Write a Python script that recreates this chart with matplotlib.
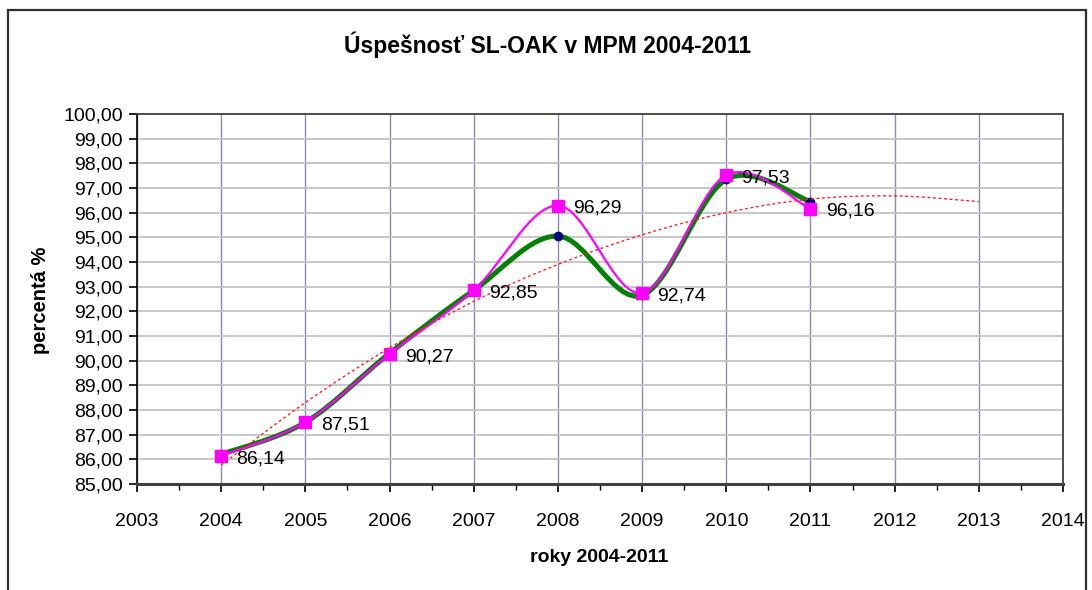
import matplotlib
matplotlib.use('Agg')
import matplotlib.pyplot as plt
import numpy as np
from matplotlib.path import Path
from matplotlib.patches import PathPatch, Rectangle

plt.rcParams['font.family'] = ['Liberation Sans', 'DejaVu Sans']

# data
years = [2004, 2005, 2006, 2007, 2008, 2009, 2010, 2011]
uspesnost = [86.14, 87.51, 90.27, 92.85, 96.29, 92.74, 97.53, 96.16]
druha_rada = [86.20, 87.50, 90.30, 92.85, 95.05, 92.65, 97.35, 96.45]
trend_years = [2004, 2005, 2006, 2007, 2008, 2009, 2010, 2011, 2012, 2013]
trend = [85.77, 88.30, 90.52, 92.40, 93.90, 95.10, 96.00, 96.55, 96.68, 96.45]


def smooth_path(xs, ys):
    # Excel-like smoothed line: cubic Bezier through the points
    p = np.column_stack([xs, ys]).astype(float)
    n = len(p)
    verts = [p[0]]
    codes = [Path.MOVETO]
    for i in range(n - 1):
        prev = p[i - 1] if i > 0 else p[i]
        nxt = p[i + 2] if i + 2 < n else p[i + 1]
        c1 = p[i] + (p[i + 1] - prev) / 6.0
        c2 = p[i + 1] - (nxt - p[i]) / 6.0
        verts += [c1, c2, p[i + 1]]
        codes += [Path.CURVE4] * 3
    return Path(verts, codes)


fig = plt.figure(figsize=(10.92, 5.9), dpi=100)
ax = fig.add_axes([137 / 1092, 1 - 484 / 590, (1063 - 137) / 1092, (484 - 114) / 590])

ax.set_xlim(2003, 2014)
ax.set_ylim(85, 100)
ax.set_xticks(range(2003, 2015))
ax.set_xticks(np.arange(2003.5, 2014, 1.0), minor=True)
ax.set_yticks(range(85, 101))
ax.set_yticklabels(['{:.2f}'.format(v).replace('.', ',') for v in range(85, 101)])

ax.grid(axis='y', color='#c4c4c4', lw=1.3)
ax.grid(axis='x', color='#8a8ab8', lw=1.0)
ax.set_axisbelow(True)

for s in ['top', 'right']:
    ax.spines[s].set_color('#404040')
    ax.spines[s].set_linewidth(1.3)
ax.spines['left'].set_color('black')
ax.spines['left'].set_linewidth(1.2)
ax.spines['bottom'].set_color('#404040')
ax.spines['bottom'].set_linewidth(2.2)

ax.tick_params(axis='both', which='major', direction='out', length=6, width=1.2,
               labelsize=14, colors='black')
ax.tick_params(axis='x', which='minor', direction='out', length=4, width=1.0)
ax.tick_params(axis='x', pad=15)
ax.tick_params(axis='y', pad=4)

# green series
ax.add_patch(PathPatch(smooth_path(years, druha_rada), fill=False, ec='#008000', lw=3.6, zorder=3))
ax.plot(years, druha_rada, ls='none', marker='o', ms=6, color='#000080', zorder=4)

# magenta series
ax.add_patch(PathPatch(smooth_path(years, uspesnost), fill=False, ec='#ff00ff', lw=1.6, zorder=5))
ax.plot(years, uspesnost, ls='none', marker='s', ms=8, color='#ff00ff', zorder=6)

# trend
ax.add_patch(PathPatch(smooth_path(trend_years, trend), fill=False, ec='#ff2020',
                       lw=1.0, ls=(0, (2, 2)), zorder=7))

for x, y in zip(years, uspesnost):
    ax.annotate('{:.2f}'.format(y).replace('.', ','), (x, y), xytext=(11, -2),
                textcoords='offset points', ha='left', va='center', fontsize=14, zorder=8)

fig.text(548 / 1092, 1 - 45 / 590, 'Úspešnosť SL-OAK v MPM 2004-2011',
         ha='center', va='center', fontsize=16.5, fontweight='bold')
fig.text(599 / 1092, 1 - 557 / 590, 'roky 2004-2011',
         ha='center', va='center', fontsize=14, fontweight='bold')
fig.text(40 / 1092, 1 - 300 / 590, 'percentá %', rotation=90,
         ha='center', va='center', fontsize=14.5, fontweight='bold')

fig.patches.append(Rectangle((8 / 1092, -0.05), (1086 - 8) / 1092, 1 - 10 / 590 + 0.05,
                             transform=fig.transFigure, fill=False, ec='#303030', lw=1.6))

fig.savefig('out.png', dpi=100)
